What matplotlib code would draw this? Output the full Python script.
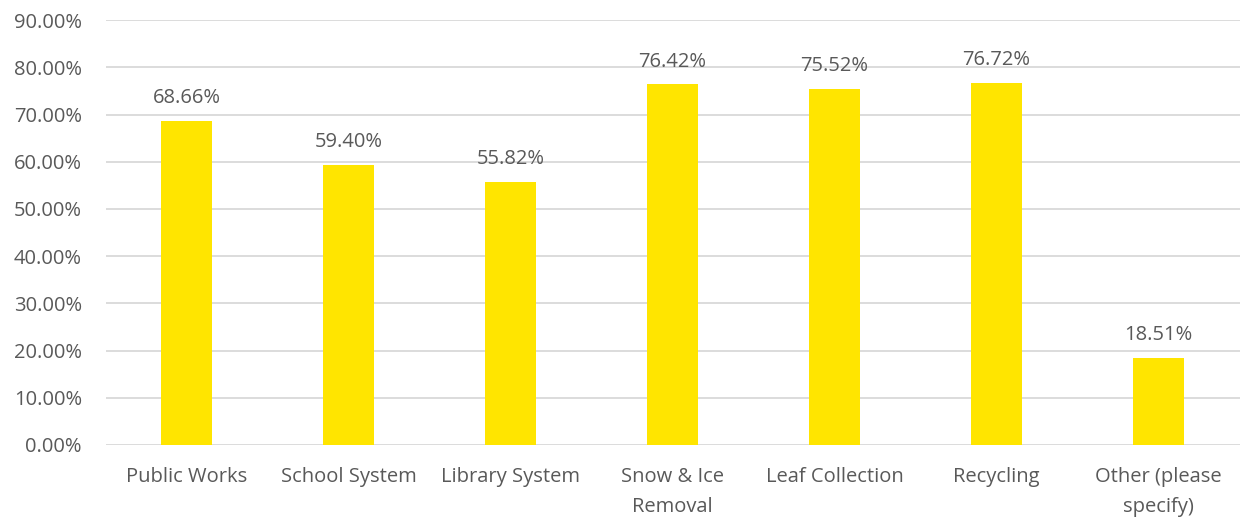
import matplotlib
matplotlib.use('Agg')
import matplotlib.pyplot as plt
from matplotlib.ticker import FuncFormatter

# chart data
categories = ['Public Works', 'School System', 'Library System', 'Snow & Ice\nRemoval',
              'Leaf Collection', 'Recycling', 'Other (please\nspecify)']
values = [68.66, 59.40, 55.82, 76.42, 75.52, 76.72, 18.51]
yticks = [0, 10, 20, 30, 40, 50, 60, 70, 80, 90]

text_color = '#595959'
plt.rcParams['font.family'] = ['Open Sans', 'DejaVu Sans']

fig = plt.figure(figsize=(12.42, 5.18), dpi=100)
ax = fig.add_axes([0.085, 0.141, 0.913, 0.82])

x = range(len(categories))
bars = ax.bar(x, values, width=0.31, color='#FFE500', zorder=3)

# value labels above bars
for xi, v in zip(x, values):
    ax.annotate(f'{v:.2f}%', (xi, v), xytext=(0, 9), textcoords='offset points',
                ha='center', va='bottom', fontsize=14.5, color=text_color)

ax.set_ylim(0, 90)
ax.set_xlim(-0.5, len(categories) - 0.5)
ax.set_yticks(yticks)
ax.yaxis.set_major_formatter(FuncFormatter(lambda v, pos: f'{v:.2f}%'))
ax.set_xticks(list(x))
ax.set_xticklabels(categories, linespacing=1.65)
ax.tick_params(axis='both', length=0, labelsize=14.5, labelcolor=text_color)
ax.tick_params(axis='x', pad=16)
ax.tick_params(axis='y', pad=17)
ax.grid(axis='y', color='#D9D9D9', linewidth=1.3, zorder=0)
for s in ax.spines.values():
    s.set_visible(False)

fig.savefig('out.png', dpi=100)
